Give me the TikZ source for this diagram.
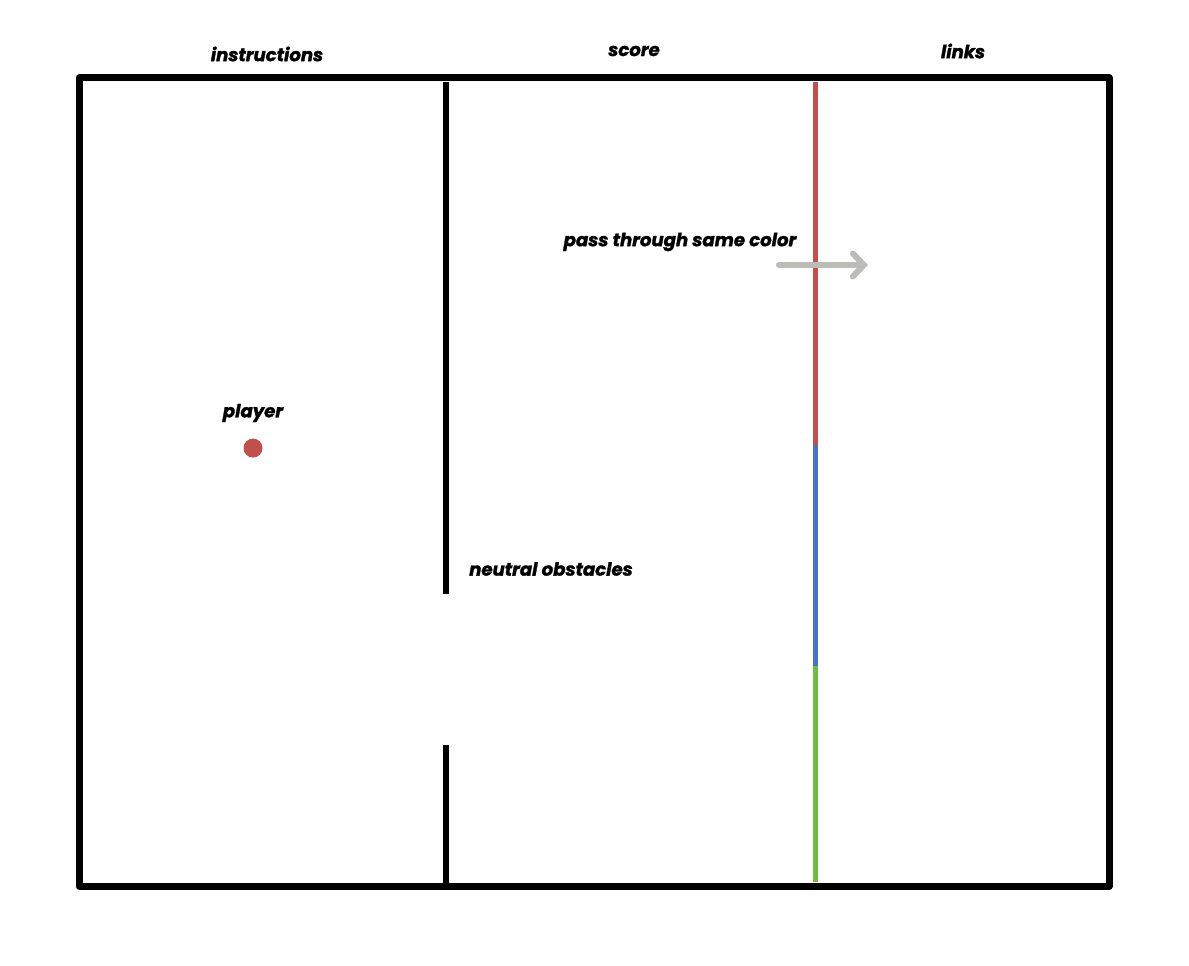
\documentclass[tikz,border=0pt]{standalone}
\usepackage{fontspec}
\setmainfont{Poppins}[BoldItalicFeatures={FakeBold=1.6}]
\usepackage{xcolor}
\usetikzlibrary{arrows.meta,positioning}
\definecolor{wallred}{RGB}{192, 80, 77}
\definecolor{wallblue}{RGB}{72, 114, 196}
\definecolor{wallgreen}{RGB}{118, 184, 70}
\definecolor{hintgray}{RGB}{188, 188, 184}
\tikzset{
 frameline/.style={
 line width=7*0.02cm,
 draw=black,
 line cap=round,
 line join=round
 },
 wallline/.style={
 line width=6*0.02cm,
 draw=black
 },
 gateline/.style={
 line width=5*0.02cm
 },
 tag/.style={
 font=\bfseries\itshape\fontsize{10.3}{12}\selectfont,
 inner sep=1pt
 },
 hintarrow/.style={-{Straight Barb[length=2.2mm, width=4.6mm, line cap=round]},
 line width=6*0.02cm, draw=hintgray, line cap=round}
}

\begin{document}
\begin{tikzpicture}[x=0.02cm, y=-0.02cm]
 \useasboundingbox (0,0) rectangle (1189,966);

 % corners of the field
 \coordinate (nw) at (79,78);
 \coordinate (ne) at (1109,78);
 \coordinate (se) at (1109,886);
 \coordinate (sw) at (79,886);
 \draw[frameline] (nw) -- (ne) -- (se) -- (sw) -- cycle;

 % neutral wall with a gap
 \coordinate (wtop) at (446,82);
 \coordinate (wgap1) at (446,594);
 \coordinate (wgap2) at (446,745);
 \coordinate (wbot) at (446,886);
 \draw[wallline] (wtop) -- (wgap1);
 \draw[wallline] (wgap2) -- (wbot);

 % coloured wall
 \coordinate (ctop) at (815,82);
 \coordinate (cred) at (815,447);
 \coordinate (cblue) at (815,668);
 \coordinate (cbot) at (815,882);
 \draw[gateline, wallred] (ctop) -- (cred);
 \draw[gateline, wallblue] ([yshift=2*0.02cm]cred) -- (cblue);
 \draw[gateline, wallgreen] ([yshift=2*0.02cm]cblue) -- (cbot);

 % labels
 \node[tag] (instr) at (267,54) {instructions};
 \node[tag] (score) at (634,51) {score};
 \node[tag] (links) at (963,51) {links};
 \node[tag] (pass) at (680,242) {pass through same color};
 \node[tag] (plabel) at (253,413) {player};
 \node[tag] (neutral) at (551,569) {neutral obstacles};

 % player
 \node[circle, fill=wallred, minimum size=19*0.02cm, inner sep=0pt, below=14*0.02cm of plabel] (player) {};

 % hint arrow
 \coordinate (hstart) at (779,265);
 \coordinate (hend) at (868,265);
 \draw[hintarrow] (hstart) -- (hend);
\end{tikzpicture}
\end{document}
